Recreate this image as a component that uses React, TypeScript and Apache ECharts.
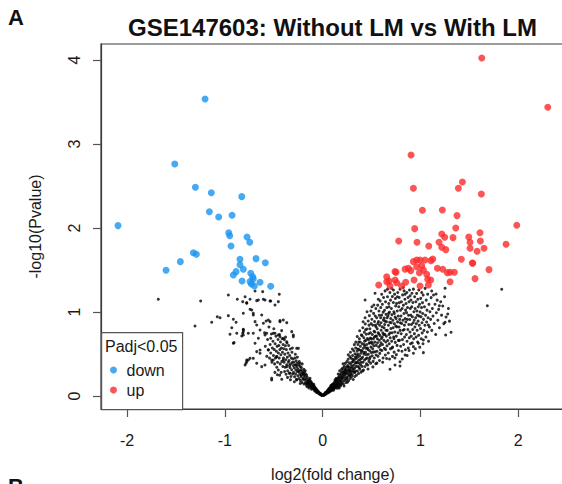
import React, { useEffect, useRef } from 'react';
import * as echarts from 'echarts';

const FONT = "'Liberation Sans', Arial, Helvetica, sans-serif";

const chartTitle = 'GSE147603: Without LM vs With LM';
const xAxisTitle = 'log2(fold change)';
const yAxisTitle = '-log10(Pvalue)';
const legendTitle = 'Padj<0.05';

const xTicks = [-2, -1, 0, 1, 2];
const yTicks = [0, 1, 2, 3, 4];

// significantly down-regulated genes [log2FC, -log10(p)]
const downPoints: [number, number][] = [
  [-1.202, 3.536], [-1.512, 2.762], [-2.092, 2.028], [-1.301, 2.484], [-1.138, 2.42],
  [-0.827, 2.373], [-1.158, 2.194], [-1.063, 2.131], [-0.926, 2.151], [-0.96, 1.944],
  [-0.95, 1.908], [-0.773, 1.893], [-0.745, 1.83], [-0.937, 1.786], [-1.322, 1.706],
  [-1.291, 1.687], [-1.455, 1.599], [-1.601, 1.496], [-0.845, 1.627], [-0.845, 1.563],
  [-0.811, 1.508], [-0.681, 1.635], [-0.586, 1.587], [-0.885, 1.48], [-0.913, 1.44],
  [-0.735, 1.46], [-0.715, 1.42], [-0.709, 1.393], [-0.824, 1.369], [-0.742, 1.361],
  [-0.64, 1.353], [-0.698, 1.31], [-0.531, 1.306], [-0.729, 1.333],
];

// significantly up-regulated genes
const upPoints: [number, number][] = [
  [1.627, 4.024], [2.302, 3.437], [0.904, 2.869], [0.928, 2.472], [1.429, 2.548],
  [1.388, 2.472], [1.623, 2.405], [1.02, 2.21], [1.224, 2.214], [1.374, 2.147],
  [1.985, 2.032], [0.941, 1.992], [1.361, 2.0], [1.218, 1.929], [1.248, 1.889],
  [1.333, 1.885], [1.494, 1.893], [1.609, 1.944], [0.778, 1.845], [0.965, 1.83],
  [1.19, 1.83], [1.085, 1.786], [1.218, 1.77], [1.259, 1.742], [1.507, 1.83],
  [1.507, 1.758], [1.613, 1.845], [1.65, 1.758], [1.579, 1.722], [1.875, 1.806],
  [1.418, 1.627], [1.531, 1.583], [1.701, 1.504], [1.558, 1.397], [1.303, 1.472],
  [1.347, 1.472], [1.173, 1.52], [1.228, 1.508], [1.275, 1.468], [1.126, 1.631],
  [1.108, 1.611], [1.047, 1.619], [0.996, 1.619], [0.962, 1.619], [0.928, 1.599],
  [0.876, 1.52], [0.901, 1.492], [0.962, 1.539], [1.013, 1.551], [1.03, 1.5],
  [0.989, 1.468], [1.064, 1.449], [0.935, 1.381], [1.074, 1.389], [1.105, 1.381],
  [0.996, 1.31], [1.081, 1.321], [0.751, 1.472], [0.655, 1.42], [0.679, 1.369],
  [0.74, 1.381], [0.573, 1.321], [0.689, 1.31], [0.808, 1.31], [0.849, 1.353],
  [0.757, 1.349], [0.74, 1.48], [0.655, 1.36], [0.843, 1.51], [1.303, 1.36], [1.535, 1.58],
];

// non-significant genes away from the main cloud
const nsScattered: [number, number][] = [
  [-1.68, 1.151], [-1.247, 1.131], [-0.964, 1.202], [-0.872, 1.151], [-0.793, 1.182],
  [-0.776, 1.111], [-0.811, 0.984], [-1.305, 0.833], [-1.134, 0.877], [-1.077, 0.944],
  [-1.049, 0.932], [-0.964, 0.956], [-0.913, 0.913], [-0.885, 0.877], [-0.929, 0.813],
  [-0.878, 0.746], [-0.947, 0.734], [-0.906, 0.635], [-0.811, 0.794], [-0.817, 0.746],
  [-0.827, 0.714], [-0.76, 0.429], [-0.783, 0.389], [-0.817, 1.123], [-0.742, 1.151],
  [-0.657, 1.143], [-0.606, 1.151], [-0.531, 1.131], [-0.443, 1.211], [-0.453, 1.123],
  [-0.742, 1.032], [-0.709, 0.984], [-0.623, 0.964], [-0.555, 0.905], [-0.436, 0.897],
  [-0.402, 0.905], [-0.811, 0.766], [-0.913, 0.627], [-0.76, 0.746], [-0.674, 0.845],
  [-0.64, 0.786], [-0.589, 0.726], [-0.531, 0.687], [-0.487, 0.746], [-0.436, 0.706],
  [-0.367, 0.646], [-0.316, 0.766], [-0.3, 0.706], [-0.265, 0.567], [-0.776, 0.429],
  [-0.793, 0.369], [-0.709, 0.448], [-0.64, 0.508], [-0.623, 0.349], [-0.555, 0.548],
  [-0.521, 0.429], [-0.521, 0.21], [-0.47, 0.468], [-0.453, 0.31], [-0.402, 0.429],
  [-0.367, 0.349], [-0.333, 0.27], [-0.265, 0.19], [-0.231, 0.389], [-0.197, 0.27],
  [-0.163, 0.151], [-0.691, 1.25], [-0.613, 1.242], [-0.776, 1.103], [-0.674, 1.135],
  [-0.589, 1.143], [-0.538, 1.131], [-0.487, 1.083], [-0.725, 1.024], [-0.709, 0.964],
  [-0.691, 0.885], [-0.606, 0.865], [-0.538, 0.885], [-0.436, 0.885], [-0.367, 0.873],
  [-0.811, 0.786], [-0.811, 0.726], [-0.709, 0.746], [-0.657, 0.687], [-0.572, 0.746],
  [-0.504, 0.746], [-0.453, 0.726], [-0.402, 0.687], [-0.3, 0.726], [-0.248, 0.567],
  [-0.691, 0.627], [-0.64, 0.548], [-0.674, 0.528], [-0.776, 0.409], [-0.742, 0.448],
  [-0.674, 0.389], [-0.589, 0.369], [-0.521, 0.19], [-0.418, 0.198], [-0.504, 0.429],
  [-0.47, 0.468],
  [1.831, 1.27], [1.684, 1.075], [1.279, 0.976], [1.252, 0.877], [1.313, 0.758],
  [1.258, 0.726], [1.193, 1.075], [1.252, 1.282], [1.16, 1.214], [1.115, 1.25],
  [1.03, 0.516], [1.081, 0.845], [1.03, 0.667], [0.979, 0.627], [0.928, 0.587],
  [0.843, 0.488], [0.791, 0.408], [0.928, 0.508], [0.791, 0.357], [0.74, 0.369],
  [0.689, 0.318], [0.434, 1.143], [0.536, 1.222],
];

// non-significant genes, left arm of the V
const nsLeftArm: [number, number][] = [
  [-0.004, 0.006], [-0.009, 0.013], [-0.014, 0.009], [-0.018, 0.021], [-0.023, 0.017], [-0.027, 0.031],
  [-0.031, 0.024], [-0.035, 0.041], [-0.039, 0.033], [-0.043, 0.051], [-0.046, 0.038], [-0.049, 0.058],
  [-0.021, 0.028], [-0.037, 0.027],
  [-0.052, 0.047], [-0.055, 0.066], [-0.059, 0.054], [-0.062, 0.077], [-0.066, 0.061], [-0.069, 0.088],
  [-0.073, 0.069], [-0.076, 0.096], [-0.079, 0.072], [-0.083, 0.108], [-0.086, 0.081], [-0.089, 0.117],
  [-0.093, 0.092], [-0.096, 0.128], [-0.099, 0.086], [-0.064, 0.043], [-0.081, 0.058], [-0.091, 0.139],
  [-0.102, 0.117], [-0.105, 0.141], [-0.108, 0.096], [-0.112, 0.152], [-0.115, 0.123], [-0.118, 0.168],
  [-0.121, 0.108], [-0.124, 0.142], [-0.127, 0.181], [-0.131, 0.128], [-0.134, 0.163], [-0.137, 0.197],
  [-0.141, 0.117], [-0.144, 0.176], [-0.147, 0.152], [-0.113, 0.081], [-0.129, 0.211], [-0.139, 0.094],
  [-0.151, 0.188], [-0.154, 0.143], [-0.157, 0.221], [-0.161, 0.172], [-0.164, 0.248], [-0.167, 0.131],
  [-0.171, 0.203], [-0.174, 0.262], [-0.177, 0.158], [-0.181, 0.231], [-0.184, 0.189], [-0.187, 0.281],
  [-0.191, 0.142], [-0.194, 0.246], [-0.197, 0.212], [-0.159, 0.109], [-0.178, 0.301], [-0.192, 0.318],
  [-0.201, 0.262], [-0.204, 0.198], [-0.207, 0.301], [-0.211, 0.161], [-0.214, 0.276], [-0.217, 0.338],
  [-0.221, 0.231], [-0.224, 0.309], [-0.227, 0.183], [-0.231, 0.352], [-0.234, 0.262], [-0.237, 0.297],
  [-0.241, 0.207], [-0.244, 0.371], [-0.247, 0.288], [-0.209, 0.382], [-0.229, 0.148], [-0.239, 0.411],
  [-0.219, 0.247],
  [-0.251, 0.321], [-0.254, 0.241], [-0.257, 0.392], [-0.261, 0.292], [-0.264, 0.347], [-0.267, 0.198],
  [-0.271, 0.418], [-0.274, 0.311], [-0.277, 0.262], [-0.281, 0.372], [-0.284, 0.452], [-0.287, 0.228],
  [-0.291, 0.336], [-0.294, 0.401], [-0.297, 0.281], [-0.259, 0.462], [-0.279, 0.497], [-0.289, 0.169],
  [-0.269, 0.368],
  [-0.301, 0.362], [-0.304, 0.441], [-0.307, 0.262], [-0.311, 0.398], [-0.314, 0.521], [-0.317, 0.312],
  [-0.321, 0.452], [-0.324, 0.231], [-0.327, 0.381], [-0.331, 0.558], [-0.334, 0.338], [-0.337, 0.482],
  [-0.341, 0.272], [-0.344, 0.421], [-0.347, 0.601], [-0.309, 0.571], [-0.329, 0.192], [-0.339, 0.362],
  [-0.351, 0.402], [-0.354, 0.512], [-0.357, 0.301], [-0.361, 0.462], [-0.364, 0.631], [-0.367, 0.372],
  [-0.371, 0.552], [-0.374, 0.258], [-0.377, 0.431], [-0.381, 0.598], [-0.384, 0.342], [-0.387, 0.498],
  [-0.391, 0.671], [-0.394, 0.401], [-0.397, 0.562], [-0.359, 0.221], [-0.379, 0.701], [-0.389, 0.291],
  [-0.401, 0.451], [-0.404, 0.612], [-0.407, 0.351], [-0.411, 0.521], [-0.414, 0.682], [-0.417, 0.412],
  [-0.421, 0.572], [-0.424, 0.281], [-0.427, 0.491], [-0.431, 0.642], [-0.434, 0.382], [-0.437, 0.552],
  [-0.441, 0.731], [-0.444, 0.451], [-0.447, 0.601], [-0.419, 0.778], [-0.439, 0.248],
  [-0.452, 0.512], [-0.456, 0.672], [-0.461, 0.401], [-0.465, 0.591], [-0.469, 0.342], [-0.473, 0.532],
  [-0.477, 0.712], [-0.482, 0.452], [-0.486, 0.621], [-0.491, 0.382], [-0.495, 0.552], [-0.499, 0.801],
  [-0.463, 0.252], [-0.488, 0.281],
  [-0.503, 0.482], [-0.508, 0.652], [-0.514, 0.571], [-0.519, 0.402], [-0.524, 0.738], [-0.531, 0.512],
  [-0.537, 0.612], [-0.543, 0.451], [-0.549, 0.822], [-0.556, 0.551], [-0.563, 0.672], [-0.571, 0.472],
  [-0.578, 0.892], [-0.586, 0.591], [-0.594, 0.752],
];

// non-significant genes, right arm of the V
const nsRightArm: [number, number][] = [
  [0.004, 0.008], [0.012, 0.006], [0.009, 0.017], [0.018, 0.014], [0.021, 0.027], [0.026, 0.019],
  [0.031, 0.035], [0.034, 0.024], [0.038, 0.047], [0.041, 0.032], [0.044, 0.052], [0.047, 0.039],
  [0.049, 0.061], [0.015, 0.022], [0.028, 0.041], [0.036, 0.029],
  [0.052, 0.044], [0.055, 0.071], [0.058, 0.056], [0.061, 0.083], [0.063, 0.049], [0.066, 0.067],
  [0.069, 0.091], [0.071, 0.058], [0.074, 0.078], [0.077, 0.102], [0.079, 0.064], [0.082, 0.088],
  [0.084, 0.113], [0.087, 0.071], [0.089, 0.097], [0.092, 0.122], [0.094, 0.081], [0.096, 0.104],
  [0.098, 0.137], [0.057, 0.038], [0.073, 0.052], [0.086, 0.126], [0.091, 0.063],
  [0.101, 0.092], [0.103, 0.118], [0.106, 0.143], [0.108, 0.079], [0.111, 0.127], [0.113, 0.101],
  [0.116, 0.156], [0.118, 0.089], [0.121, 0.134], [0.123, 0.112], [0.126, 0.171], [0.128, 0.097],
  [0.131, 0.146], [0.133, 0.121], [0.136, 0.184], [0.138, 0.108], [0.141, 0.158], [0.143, 0.133],
  [0.146, 0.197], [0.148, 0.092], [0.112, 0.068], [0.127, 0.193], [0.139, 0.209], [0.144, 0.115],
  [0.151, 0.167], [0.153, 0.124], [0.156, 0.214], [0.158, 0.143], [0.161, 0.181], [0.163, 0.106],
  [0.166, 0.229], [0.168, 0.157], [0.171, 0.196], [0.173, 0.132], [0.176, 0.248], [0.178, 0.171],
  [0.181, 0.212], [0.183, 0.118], [0.186, 0.266], [0.188, 0.184], [0.191, 0.227], [0.193, 0.149],
  [0.196, 0.289], [0.198, 0.201], [0.159, 0.262], [0.174, 0.301], [0.187, 0.137], [0.194, 0.318],
  [0.169, 0.094],
  [0.201, 0.243], [0.203, 0.168], [0.206, 0.331], [0.208, 0.214], [0.211, 0.262], [0.213, 0.143],
  [0.216, 0.297], [0.218, 0.231], [0.221, 0.352], [0.223, 0.184], [0.226, 0.276], [0.228, 0.249],
  [0.231, 0.388], [0.233, 0.207], [0.236, 0.311], [0.238, 0.161], [0.241, 0.268], [0.243, 0.342],
  [0.246, 0.226], [0.248, 0.409], [0.209, 0.384], [0.219, 0.119], [0.229, 0.319], [0.239, 0.287],
  [0.244, 0.192], [0.214, 0.278],
  [0.251, 0.296], [0.253, 0.214], [0.256, 0.362], [0.258, 0.258], [0.261, 0.437], [0.263, 0.319],
  [0.266, 0.183], [0.268, 0.281], [0.271, 0.396], [0.273, 0.239], [0.276, 0.341], [0.278, 0.468],
  [0.281, 0.306], [0.283, 0.207], [0.286, 0.378], [0.288, 0.268], [0.291, 0.449], [0.293, 0.331],
  [0.296, 0.229], [0.298, 0.402], [0.254, 0.163], [0.262, 0.491], [0.274, 0.302], [0.284, 0.521],
  [0.294, 0.288], [0.259, 0.347], [0.279, 0.248],
  [0.301, 0.352], [0.303, 0.254], [0.306, 0.481], [0.308, 0.301], [0.311, 0.412], [0.313, 0.197],
  [0.316, 0.366], [0.318, 0.538], [0.321, 0.283], [0.323, 0.427], [0.326, 0.331], [0.328, 0.231],
  [0.331, 0.503], [0.333, 0.389], [0.336, 0.298], [0.338, 0.572], [0.341, 0.446], [0.343, 0.352],
  [0.346, 0.248], [0.348, 0.487], [0.304, 0.559], [0.314, 0.322], [0.324, 0.611], [0.334, 0.462],
  [0.344, 0.402], [0.309, 0.437], [0.329, 0.279], [0.339, 0.641],
  [0.351, 0.394], [0.353, 0.532], [0.356, 0.297], [0.358, 0.462], [0.361, 0.612], [0.363, 0.351],
  [0.366, 0.421], [0.368, 0.268], [0.371, 0.552], [0.373, 0.389], [0.376, 0.681], [0.378, 0.476],
  [0.381, 0.318], [0.383, 0.433], [0.386, 0.591], [0.388, 0.372], [0.391, 0.509], [0.393, 0.284],
  [0.396, 0.727], [0.398, 0.447], [0.354, 0.707], [0.364, 0.497], [0.374, 0.337], [0.384, 0.642],
  [0.394, 0.402], [0.359, 0.559], [0.379, 0.777], [0.389, 0.541], [0.369, 0.643],
  [0.401, 0.538], [0.403, 0.352], [0.406, 0.623], [0.408, 0.461], [0.411, 0.812], [0.413, 0.402],
  [0.416, 0.567], [0.418, 0.308], [0.421, 0.694], [0.423, 0.498], [0.426, 0.759], [0.428, 0.427],
  [0.431, 0.591], [0.433, 0.351], [0.436, 0.858], [0.438, 0.521], [0.441, 0.662], [0.443, 0.443],
  [0.446, 0.734], [0.448, 0.382], [0.404, 0.717], [0.414, 0.883], [0.424, 0.612], [0.434, 0.932],
  [0.444, 0.568], [0.409, 0.297], [0.419, 0.521], [0.429, 0.651], [0.439, 0.789], [0.447, 0.492],
  [0.451, 0.613], [0.453, 0.798], [0.456, 0.451], [0.458, 0.684], [0.461, 0.368], [0.463, 0.552],
  [0.466, 0.893], [0.468, 0.497], [0.471, 0.741], [0.473, 0.412], [0.476, 0.627], [0.478, 0.956],
  [0.481, 0.538], [0.483, 0.801], [0.486, 0.462], [0.488, 0.689], [0.491, 0.391], [0.493, 0.582],
  [0.496, 0.861], [0.498, 0.517], [0.454, 1.002], [0.464, 0.322], [0.474, 0.843], [0.484, 0.633],
  [0.494, 1.011], [0.459, 0.571], [0.469, 0.668], [0.479, 0.441], [0.489, 0.752], [0.497, 0.682],
  [0.501, 0.643], [0.503, 0.913], [0.506, 0.478], [0.508, 0.732], [0.511, 0.561], [0.513, 0.842],
  [0.516, 0.412], [0.518, 0.681], [0.521, 0.983], [0.523, 0.597], [0.526, 0.771], [0.528, 0.452],
  [0.531, 0.887], [0.533, 0.641], [0.536, 0.527], [0.538, 0.952], [0.541, 0.712], [0.543, 0.383],
  [0.546, 0.823], [0.548, 0.602], [0.504, 1.062], [0.514, 0.346], [0.524, 1.083], [0.534, 0.761],
  [0.544, 1.041], [0.509, 0.621], [0.519, 0.522], [0.529, 0.702], [0.539, 0.843], [0.547, 0.488],
  [0.551, 0.713], [0.553, 0.932], [0.556, 0.532], [0.558, 0.801], [0.561, 0.634], [0.563, 1.081],
  [0.566, 0.472], [0.568, 0.752], [0.571, 0.887], [0.573, 0.582], [0.576, 1.012], [0.578, 0.663],
  [0.581, 0.423], [0.583, 0.842], [0.586, 0.721], [0.588, 1.132], [0.591, 0.551], [0.593, 0.931],
  [0.596, 0.633], [0.598, 0.782], [0.554, 0.391], [0.564, 0.862], [0.574, 0.741], [0.584, 0.507],
  [0.594, 1.052], [0.559, 0.681], [0.569, 1.152], [0.579, 0.961], [0.589, 0.602], [0.597, 0.872],
  [0.601, 0.683], [0.603, 0.962], [0.606, 0.541], [0.608, 0.823], [0.611, 1.091], [0.613, 0.612],
  [0.616, 0.751], [0.618, 0.452], [0.621, 0.903], [0.623, 1.172], [0.626, 0.662], [0.628, 0.811],
  [0.631, 0.567], [0.633, 1.021], [0.636, 0.733], [0.638, 0.891], [0.641, 0.488], [0.643, 1.121],
  [0.646, 0.642], [0.648, 0.972], [0.604, 1.211], [0.614, 0.402], [0.624, 0.731], [0.634, 0.851],
  [0.644, 0.552], [0.609, 0.701], [0.619, 0.998], [0.629, 0.928], [0.639, 1.251], [0.647, 0.783],
  [0.651, 0.712], [0.653, 0.883], [0.656, 1.052], [0.658, 0.597], [0.661, 0.781], [0.663, 1.182],
  [0.666, 0.661], [0.668, 0.952], [0.671, 0.512], [0.673, 0.842], [0.676, 1.101], [0.678, 0.731],
  [0.681, 0.621], [0.683, 0.998], [0.686, 0.877], [0.688, 1.232], [0.691, 0.692], [0.693, 0.561],
  [0.696, 0.922], [0.698, 0.802], [0.654, 0.447], [0.664, 1.272], [0.674, 0.981], [0.684, 0.441],
  [0.694, 1.141], [0.659, 0.931], [0.679, 1.061], [0.689, 0.751],
  [0.701, 0.871], [0.703, 1.042], [0.706, 0.652], [0.708, 0.968], [0.711, 0.752], [0.713, 1.183],
  [0.716, 0.582], [0.718, 0.902], [0.721, 0.812], [0.723, 1.112], [0.726, 0.702], [0.728, 1.002],
  [0.731, 0.522], [0.733, 0.861], [0.736, 1.212], [0.738, 0.761], [0.741, 0.941], [0.743, 0.638],
  [0.746, 1.071], [0.748, 0.833], [0.704, 1.282], [0.714, 0.471], [0.724, 1.262], [0.734, 0.981],
  [0.744, 1.161], [0.709, 0.572], [0.729, 0.681], [0.739, 0.452],
  [0.751, 0.921], [0.753, 0.712], [0.756, 1.102], [0.758, 0.823], [0.761, 0.602], [0.763, 1.011],
  [0.766, 0.882], [0.768, 1.232], [0.771, 0.752], [0.773, 0.952], [0.776, 0.541], [0.778, 1.062],
  [0.781, 0.821], [0.783, 1.173], [0.786, 0.662], [0.788, 0.912], [0.791, 1.271], [0.793, 0.781],
  [0.796, 1.021], [0.798, 0.592], [0.754, 0.492], [0.764, 1.182], [0.774, 0.662], [0.784, 1.111],
  [0.794, 0.871],
  [0.801, 0.952], [0.803, 0.741], [0.806, 1.122], [0.808, 0.862], [0.811, 0.532], [0.813, 1.041],
  [0.816, 0.671], [0.818, 1.203], [0.821, 0.902], [0.823, 0.782], [0.826, 1.081], [0.828, 0.612],
  [0.831, 0.981], [0.833, 1.251], [0.836, 0.843], [0.838, 0.701], [0.841, 1.152], [0.843, 0.921],
  [0.846, 0.551], [0.848, 1.022], [0.814, 0.441], [0.824, 1.291], [0.834, 0.791], [0.844, 1.211],
  [0.851, 0.881], [0.853, 1.101], [0.856, 0.731], [0.858, 0.992], [0.861, 1.231], [0.863, 0.652],
  [0.866, 0.912], [0.868, 1.052], [0.871, 0.792], [0.873, 1.172], [0.876, 0.571], [0.878, 0.961],
  [0.881, 0.851], [0.883, 1.122], [0.886, 0.692], [0.888, 1.262], [0.891, 0.911], [0.893, 0.762],
  [0.896, 1.041], [0.898, 0.622], [0.864, 0.482], [0.884, 0.541], [0.894, 1.192],
  [0.901, 0.962], [0.903, 1.142], [0.906, 0.712], [0.908, 0.851], [0.911, 1.061], [0.913, 1.222],
  [0.916, 0.632], [0.918, 0.942], [0.921, 0.791], [0.923, 1.112], [0.926, 0.871], [0.928, 1.272],
  [0.931, 0.682], [0.933, 1.003], [0.936, 0.902], [0.938, 0.742], [0.941, 1.182], [0.943, 0.822],
  [0.946, 1.041], [0.948, 0.561],
  [0.951, 0.932], [0.953, 1.121], [0.956, 0.701], [0.958, 0.861], [0.961, 1.221], [0.963, 1.011],
  [0.966, 0.782], [0.968, 0.962], [0.971, 0.642], [0.973, 1.152], [0.976, 0.891], [0.978, 1.062],
  [0.981, 0.722], [0.983, 1.262], [0.986, 0.951], [0.988, 0.842], [0.991, 1.091], [0.993, 0.581],
  [0.996, 1.001],
  [1.001, 0.802], [1.003, 1.162], [1.006, 0.942], [1.008, 0.681], [1.011, 1.052], [1.013, 1.231],
  [1.016, 0.871], [1.018, 0.751], [1.021, 1.111], [1.023, 0.982], [1.026, 0.621], [1.028, 1.201],
  [1.031, 0.912], [1.036, 0.781], [1.041, 1.061], [1.046, 0.842], [1.048, 1.281],
  [1.052, 0.962], [1.056, 0.702], [1.059, 1.141], [1.063, 0.881], [1.067, 1.022], [1.071, 0.762],
  [1.074, 1.212], [1.078, 0.931], [1.083, 0.651], [1.087, 1.091], [1.092, 0.822], [1.097, 1.002],
  [1.104, 0.912], [1.109, 1.171], [1.116, 0.781], [1.122, 1.041], [1.128, 0.951], [1.134, 1.202],
  [1.141, 0.862], [1.149, 1.092], [1.156, 0.731], [1.163, 0.991], [1.171, 1.141], [1.178, 0.902],
  [1.186, 1.031], [1.194, 0.812],
  [1.207, 1.121], [1.216, 0.962], [1.228, 1.071], [1.239, 0.861], [1.247, 1.181], [1.262, 0.941],
  [1.286, 1.042], [1.297, 0.891],
];

const nsPoints: [number, number][] = [...nsScattered, ...nsLeftArm, ...nsRightArm];

const textBase = { fontFamily: FONT, color: '#1a1a1a', fontSize: 16 };
const frameColor = '#3a3a3a';
const tickColor = '#555';

function buildOption() {
  return {
    animation: false,
    backgroundColor: '#ffffff',
    title: [
      {
        text: chartTitle,
        left: 332.5,
        top: 15,
        padding: 0,
        textAlign: 'center',
        textStyle: { fontFamily: FONT, fontSize: 24, fontWeight: 'bold', color: '#111' },
      },
      {
        text: 'A',
        left: 8,
        top: 6,
        padding: 0,
        textStyle: { fontFamily: FONT, fontSize: 22, fontWeight: 'bold', color: '#111' },
      },
      {
        text: 'B',
        left: 8,
        top: 475,
        padding: 0,
        textStyle: { fontFamily: FONT, fontSize: 22, fontWeight: 'bold', color: '#111' },
      },
    ],
    grid: {
      left: 101,
      top: 44,
      width: 463.8,
      height: 365,
      show: true,
      containLabel: false,
      outerBoundsMode: 'none',
      borderColor: frameColor,
      borderWidth: 1.2,
      backgroundColor: 'transparent',
    },
    xAxis: {
      type: 'value',
      position: 'bottom',
      min: -2.266,
      max: 2.476,
      splitLine: { show: false },
      axisLine: { show: true, onZero: false, lineStyle: { color: frameColor, width: 1.2 } },
      axisTick: {
        show: true,
        inside: false,
        length: 8,
        customValues: xTicks,
        lineStyle: { color: tickColor, width: 1.2 },
      },
      axisLabel: { ...textBase, customValues: xTicks, margin: 23 },
      name: xAxisTitle,
      nameLocation: 'middle',
      nameGap: 57,
      nameTextStyle: { ...textBase },
    },
    yAxis: {
      type: 'value',
      position: 'left',
      min: -0.155,
      max: 4.19,
      splitLine: { show: false },
      axisLine: { show: true, onZero: false, lineStyle: { color: frameColor, width: 1.2 } },
      axisTick: {
        show: true,
        inside: false,
        length: 8,
        customValues: yTicks,
        lineStyle: { color: tickColor, width: 1.2 },
      },
      axisLabel: { ...textBase, customValues: yTicks, margin: 19, rotate: 90 },
      name: yAxisTitle,
      nameLocation: 'middle',
      nameGap: 58,
      nameTextStyle: { ...textBase },
    },
    legend: {
      orient: 'vertical',
      left: 110,
      top: 362,
      padding: 0,
      itemGap: 4,
      itemWidth: 16,
      itemHeight: 7,
      selectedMode: false,
      z: 12,
      data: [
        { name: 'down', icon: 'circle' },
        { name: 'up', icon: 'circle' },
      ],
      textStyle: { ...textBase },
    },
    graphic: [
      {
        type: 'rect',
        left: 101,
        top: 332,
        z: 10,
        shape: { width: 81, height: 77 },
        style: { fill: '#ffffff', stroke: '#555', lineWidth: 1.2 },
      },
      {
        type: 'text',
        left: 105,
        top: 338,
        z: 11,
        style: { text: legendTitle, font: `16px ${FONT}`, fill: '#1a1a1a' },
      },
    ],
    series: [
      {
        name: 'ns',
        type: 'scatter',
        data: nsPoints,
        symbol: 'circle',
        symbolSize: 3,
        itemStyle: { color: '#000' },
        silent: true,
      },
      {
        name: 'down',
        type: 'scatter',
        data: downPoints,
        symbol: 'circle',
        symbolSize: 7,
        itemStyle: { color: '#1a93f0' },
      },
      {
        name: 'up',
        type: 'scatter',
        data: upPoints,
        symbol: 'circle',
        symbolSize: 7,
        itemStyle: { color: '#fb2a2a' },
      },
    ],
  };
}

export default function App() {
  const ref = useRef<HTMLDivElement>(null);
  useEffect(() => {
    document.body.style.margin = '0';
    const chart = echarts.init(ref.current as HTMLDivElement, undefined, { renderer: 'svg' });
    chart.setOption(buildOption() as any);
    return () => chart.dispose();
  }, []);
  return <div ref={ref} style={{ width: 562, height: 484, background: '#fff' }} />;
}
